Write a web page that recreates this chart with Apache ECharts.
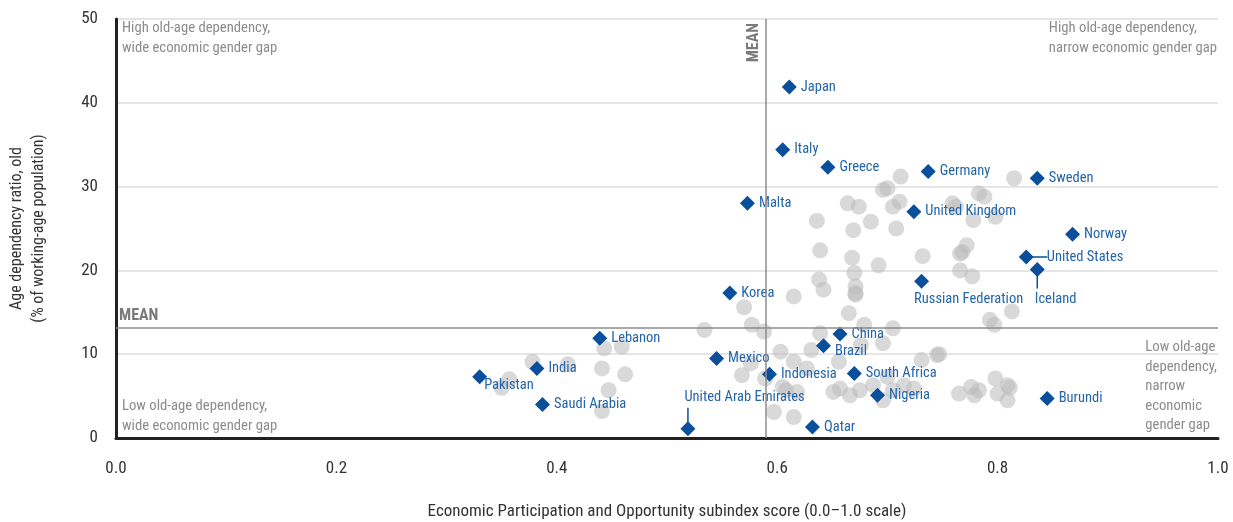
<!DOCTYPE html>
<html>
<head>
<meta charset="utf-8">
<script src="https://cdn.jsdelivr.net/npm/echarts@6/dist/echarts.min.js"></script>
<style>
  html, body { margin: 0; background: #fff; }
  #chart { width: 1233px; height: 522px; }
</style>
</head>
<body>
<div id="chart"></div>
<script>
// --- highlighted countries ---
const countryNames = [
  'Japan', 'Italy', 'Greece', 'Germany', 'Sweden', 'Malta', 'United Kingdom',
  'Norway', 'United States', 'Iceland', 'Russian Federation', 'Korea', 'China',
  'Lebanon', 'Brazil', 'Mexico', 'India', 'Indonesia', 'South Africa', 'Pakistan',
  'Nigeria', 'Burundi', 'Saudi Arabia', 'United Arab Emirates', 'Qatar'
];
const countryScores = [
  0.611, 0.605, 0.646, 0.737, 0.836, 0.573, 0.724,
  0.868, 0.826, 0.836, 0.731, 0.557, 0.657,
  0.439, 0.642, 0.545, 0.382, 0.593, 0.670, 0.330,
  0.691, 0.845, 0.387, 0.519, 0.632
];
const countryRatios = [
  41.9, 34.4, 32.3, 31.8, 31.0, 28.0, 27.0,
  24.3, 21.6, 20.1, 18.7, 17.3, 12.4,
  11.9, 11.0, 9.5, 8.3, 7.6, 7.7, 7.3,
  5.1, 4.7, 4.0, 1.1, 1.3
];

// --- all other countries (grey dots) ---
const otherScores = [
  0.378, 0.410, 0.357, 0.350, 0.443, 0.459, 0.441, 0.462, 0.447, 0.441,
  0.534, 0.570, 0.577, 0.588, 0.568, 0.576, 0.589, 0.636, 0.639, 0.638,
  0.642, 0.615, 0.639, 0.603, 0.615, 0.627, 0.631, 0.656, 0.605, 0.608,
  0.618, 0.597, 0.615, 0.651, 0.657, 0.666, 0.675, 0.687, 0.696, 0.700,
  0.705, 0.715, 0.724, 0.731, 0.745, 0.747, 0.765, 0.776, 0.779, 0.783,
  0.798, 0.800, 0.809, 0.811, 0.809, 0.712, 0.700, 0.696, 0.664, 0.674,
  0.711, 0.705, 0.685, 0.669, 0.708, 0.815, 0.783, 0.788, 0.759, 0.762,
  0.778, 0.798, 0.668, 0.692, 0.732, 0.772, 0.766, 0.768, 0.766, 0.777,
  0.670, 0.671, 0.671, 0.671, 0.665, 0.705, 0.679, 0.813, 0.793, 0.797,
  0.696, 0.676
];
const otherRatios = [
  9.1, 8.8, 7.0, 6.0, 10.7, 10.9, 8.3, 7.6, 5.7, 3.2,
  12.9, 15.6, 13.5, 12.7, 7.5, 8.9, 7.1, 25.9, 22.4, 18.9,
  17.7, 16.9, 12.5, 10.3, 9.1, 8.3, 10.5, 9.1, 6.1, 5.7,
  5.5, 3.1, 2.5, 5.5, 5.9, 5.1, 5.7, 6.3, 4.5, 7.3,
  5.7, 6.3, 5.9, 9.3, 9.9, 10.0, 5.3, 6.1, 5.1, 5.7,
  7.1, 5.3, 6.3, 6.0, 4.5, 31.2, 29.8, 29.6, 28.0, 27.6,
  28.2, 27.6, 25.8, 24.8, 25.0, 31.0, 29.2, 28.8, 28.0, 27.6,
  26.0, 26.4, 21.5, 20.6, 21.7, 23.0, 22.0, 22.2, 20.0, 19.3,
  19.7, 18.1, 17.3, 17.1, 14.9, 13.1, 13.5, 15.1, 14.1, 13.5,
  11.3, 11.1
];

const meanScore = 0.592;
const meanRatio = 13.2;

// label nudges for a few crowded names
const labelTweak = {
  'Brazil': [0, 6],
  'Pakistan': [-7, 9],
  'Russian Federation': [-19, 18],
  'Iceland': [-14, 30],
  'United Arab Emirates': [-15, -31],
  'United States': [9, 0]
};
// short leader lines: direction from the marker
const leaderDir = { 'United Arab Emirates': 'up', 'Iceland': 'down', 'United States': 'right' };

const FONT = '"Roboto Condensed", Roboto, sans-serif';
const BLUE = '#0a4f9b';
const LABEL_BLUE = '#2465aa';

const chart = echarts.init(document.getElementById('chart'));

const countryData = countryNames.map((n, i) => {
  const item = { name: n, value: [countryScores[i], countryRatios[i]] };
  if (labelTweak[n]) item.label = { offset: labelTweak[n] };
  return item;
});
const otherData = otherScores.map((x, i) => [x, otherRatios[i]]);
const leaderData = countryNames
  .map((n, i) => leaderDir[n] ? [countryScores[i], countryRatios[i], ['up', 'down', 'right'].indexOf(leaderDir[n])] : null)
  .filter(Boolean);

const quadText = (opts) => Object.assign({ type: 'text', silent: true, z: 1 }, opts);
const quadStyle = (text, align) => ({
  text: text, fill: '#8c8c8c', font: '14.7px ' + FONT, lineHeight: 19.5, align: align || 'left'
});

const option = {
  animation: false,
  grid: { left: 116, right: 15, top: 19, bottom: 84, outerBoundsMode: 'none', containLabel: false },
  xAxis: {
    type: 'value',
    min: 0, max: 1, interval: 0.2,
    name: 'Economic Participation and Opportunity subindex score (0.0–1.0 scale)',
    nameLocation: 'middle',
    nameGap: 65,
    nameTextStyle: { color: '#333', fontSize: 17, fontFamily: FONT },
    axisLine: { show: true, onZero: false, lineStyle: { color: '#222', width: 3 } },
    axisTick: { show: false },
    splitLine: { show: false },
    axisLabel: {
      color: '#333', fontSize: 17, fontFamily: FONT, margin: 22,
      formatter: v => v.toFixed(1)
    }
  },
  yAxis: {
    type: 'value',
    min: 0, max: 50, interval: 10,
    name: 'Age dependency ratio, old\n(% of working-age population)',
    nameLocation: 'middle',
    nameGap: 66,
    nameTextStyle: { color: '#333', fontSize: 16, fontFamily: FONT, lineHeight: 22 },
    axisLine: { show: true, onZero: false, lineStyle: { color: '#222', width: 3 } },
    axisTick: { show: false },
    splitLine: { lineStyle: { color: '#dcdcdc', width: 1.5 } },
    axisLabel: { color: '#333', fontSize: 17, fontFamily: FONT, margin: 18 }
  },
  graphic: [
    quadText({ left: 122, top: 19, style: quadStyle('High old-age dependency,\nwide economic gender gap') }),
    quadText({ right: 16, top: 19, style: quadStyle('High old-age dependency,\nnarrow economic gender gap', 'right') }),
    quadText({ left: 122, top: 397, style: quadStyle('Low old-age dependency,\nwide economic gender gap') }),
    quadText({ right: 16, top: 338, style: quadStyle('Low old-age\ndependency,\nnarrow\neconomic\ngender gap', 'right') })
  ],
  series: [
    {
      name: 'others',
      type: 'scatter',
      symbolSize: 16,
      z: 2,
      itemStyle: { color: 'rgba(185,185,185,0.55)', opacity: 1 },
      data: otherData,
      markLine: {
        silent: true,
        symbol: 'none',
        animation: false,
        lineStyle: { color: '#8c8c8c', width: 1.5, type: 'solid' },
        label: { color: '#7a7a7a', fontWeight: 'bold', fontSize: 16, fontFamily: FONT, formatter: 'MEAN' },
        data: [
          { xAxis: meanScore, label: { position: 'insideEndTop', distance: 4 } },
          { yAxis: meanRatio, label: { position: 'insideStartTop', distance: 3 } }
        ]
      }
    },
    {
      name: 'leaders',
      type: 'custom',
      z: 3,
      silent: true,
      data: leaderData,
      renderItem: (params, api) => {
        const p = api.coord([api.value(0), api.value(1)]);
        const d = api.value(2);
        let s;
        if (d === 0) s = { x1: p[0], y1: p[1] - 6, x2: p[0], y2: p[1] - 21 };
        else if (d === 1) s = { x1: p[0], y1: p[1] + 6, x2: p[0], y2: p[1] + 19 };
        else s = { x1: p[0] + 6, y1: p[1], x2: p[0] + 21, y2: p[1] };
        return { type: 'line', shape: s, style: { stroke: BLUE, lineWidth: 1.5 } };
      }
    },
    {
      name: 'countries',
      type: 'scatter',
      symbol: 'diamond',
      symbolSize: 15,
      z: 4,
      itemStyle: { color: BLUE, opacity: 1 },
      label: {
        show: true,
        position: 'right',
        distance: 4,
        formatter: '{b}',
        color: LABEL_BLUE,
        fontSize: 14.5,
        fontFamily: FONT
      },
      data: countryData
    }
  ]
};

chart.setOption(option);
</script>
</body>
</html>
